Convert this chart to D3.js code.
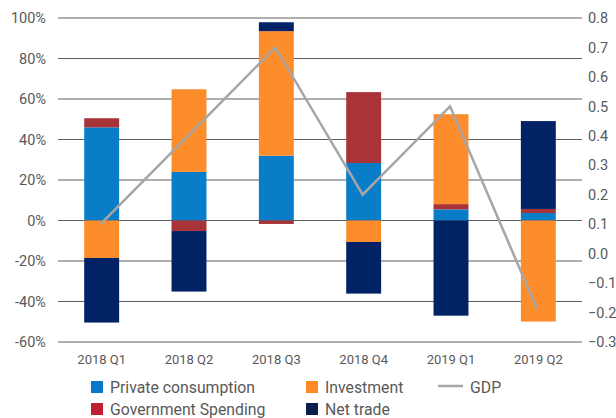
<!DOCTYPE html>
<html>
<head>
<meta charset="utf-8">
<script src="https://cdn.jsdelivr.net/npm/d3@7"></script>
<style>
  body { margin: 0; background: #fff; }
  text { font-family: Roboto, "Noto Sans", sans-serif; }
</style>
</head>
<body>
<div id="chart"></div>
<script>
// quarters on the x axis
var quarters = ["2018 Q1", "2018 Q2", "2018 Q3", "2018 Q4", "2019 Q1", "2019 Q2"];

// contributions, in percent (left axis)
var privateConsumption = [46, 24, 32, 28.4, 5.5, 3.7];
var governmentSpending = [4.5, -5.2, -1.7, 35, 2.6, 2];
var investment = [-18.5, 40.8, 61.5, -10.6, 44.4, -49.9];
var netTrade = [-31.9, -29.9, 4.4, -25.5, -47, 43.4];

// GDP growth (right axis)
var gdp = [0.1, 0.4, 0.7, 0.2, 0.5, -0.19];

var leftTicks = [-60, -40, -20, 0, 20, 40, 60, 80, 100];
var rightTicks = [-0.3, -0.2, -0.1, 0.0, 0.1, 0.2, 0.3, 0.4, 0.5, 0.6, 0.7, 0.8];

var series = [
    {key: "pc", name: "Private consumption", values: privateConsumption, color: "#0a7dc9", swatch: "#0a78c8"},
    {key: "gov", name: "Government Spending", values: governmentSpending, color: "#a8343a", swatch: "#c0202f"},
    {key: "inv", name: "Investment", values: investment, color: "#fd8c2b", swatch: "#fd8a25"},
    {key: "nt", name: "Net trade", values: netTrade, color: "#022266", swatch: "#0b1e4e"}
];

var width = 616, height = 418;
var margin = {top: 18, right: 34, bottom: 76, left: 58};
var innerW = width - margin.left - margin.right,
    innerH = height - margin.top - margin.bottom;

var svg = d3.select("#chart").append("svg")
    .attr("width", width)
    .attr("height", height);

var g = svg.append("g")
    .attr("transform", "translate(" + margin.left + "," + margin.top + ")");

var x = d3.scaleBand()
    .domain(quarters)
    .range([0, innerW])
    .paddingInner(0.6)
    .paddingOuter(0.3);

var y = d3.scaleLinear().domain([-60, 100]).range([innerH, 0]);
var y2 = d3.scaleLinear().domain([-0.3, 0.8]).range([innerH, 0]);

// gridlines
g.selectAll(".grid")
    .data(leftTicks)
    .enter().append("line")
    .attr("x1", 0).attr("x2", innerW)
    .attr("y1", function(d) { return y(d); })
    .attr("y2", function(d) { return y(d); })
    .attr("stroke", "#5f5f5f")
    .attr("stroke-width", 1.2);

// left axis
var leftAxis = g.append("g")
    .call(d3.axisLeft(y).tickValues(leftTicks).tickSize(0).tickPadding(12)
        .tickFormat(function(d) { return d + "%"; }));
leftAxis.select(".domain").remove();
leftAxis.selectAll("text")
    .attr("fill", "#595959")
    .style("font-size", "14.5px");

// right axis
var rightAxis = g.append("g")
    .attr("transform", "translate(" + innerW + ",0)")
    .call(d3.axisRight(y2).tickValues(rightTicks).tickSize(0).tickPadding(6)
        .tickFormat(d3.format(".1f")));
rightAxis.select(".domain").remove();
rightAxis.selectAll("text")
    .attr("fill", "#595959")
    .style("font-size", "14.5px");

// x axis labels
var xAxis = g.append("g")
    .attr("transform", "translate(0," + innerH + ")")
    .call(d3.axisBottom(x).tickSize(0).tickPadding(13));
xAxis.select(".domain").remove();
xAxis.selectAll("text")
    .attr("fill", "#595959")
    .style("font-size", "13px");

// stacked bars
var table = quarters.map(function(q, i) {
    var row = {quarter: q};
    series.forEach(function(s) { row[s.key] = s.values[i]; });
    return row;
});

var stack = d3.stack()
    .keys(series.map(function(s) { return s.key; }))
    .offset(d3.stackOffsetDiverging);

var layers = stack(table);

g.selectAll(".layer")
    .data(layers)
    .enter().append("g")
    .attr("fill", function(d, i) { return series[i].color; })
    .selectAll("rect")
    .data(function(d) { return d; })
    .enter().append("rect")
    .attr("x", function(d) { return x(d.data.quarter); })
    .attr("width", x.bandwidth())
    .attr("y", function(d) { return y(d[1]); })
    .attr("height", function(d) { return Math.abs(y(d[0]) - y(d[1])); });

// GDP line
var line = d3.line()
    .x(function(d, i) { return x(quarters[i]) + x.bandwidth() / 2 - 1; })
    .y(function(d) { return y2(d); });

g.append("path")
    .datum(gdp)
    .attr("d", line)
    .attr("fill", "none")
    .attr("stroke", "#a6a6a6")
    .attr("stroke-width", 2.5);

// legend
var legend = svg.append("g");
var legendItems = [
    {s: series[0], x: 91, y: 387},
    {s: series[2], x: 306, y: 387},
    {s: series[1], x: 91, y: 409},
    {s: series[3], x: 306, y: 409}
];

legendItems.forEach(function(it) {
    legend.append("rect")
        .attr("x", it.x).attr("y", it.y - 6)
        .attr("width", 12).attr("height", 12)
        .attr("fill", it.s.swatch);
    legend.append("text")
        .attr("x", it.x + 19).attr("y", it.y)
        .attr("dy", "0.35em")
        .attr("fill", "#595959")
        .style("font-size", "15.8px")
        .text(it.s.name);
});

legend.append("line")
    .attr("x1", 438).attr("x2", 463)
    .attr("y1", 386).attr("y2", 386)
    .attr("stroke", "#a6a6a6")
    .attr("stroke-width", 2.5);
legend.append("text")
    .attr("x", 470).attr("y", 387)
    .attr("dy", "0.35em")
    .attr("fill", "#595959")
    .style("font-size", "15.8px")
    .text("GDP");
</script>
</body>
</html>
